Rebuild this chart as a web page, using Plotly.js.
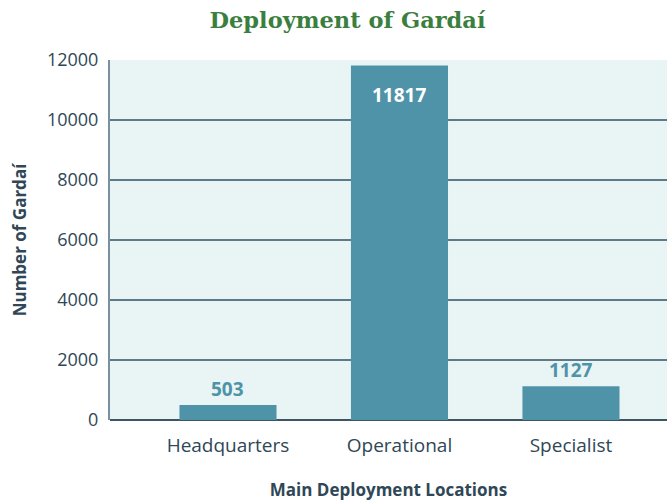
<!DOCTYPE html>
<html><head><meta charset="utf-8">
<script src="https://cdn.plot.ly/plotly-3.0.1.min.js"></script>
<style>body{margin:0;padding:0;background:#fff}#chart{width:667px;height:502px}</style>
</head><body><div id="chart"></div>
<script>
const categories = ["Headquarters", "Operational", "Specialist"];
const values = [503, 11817, 1127];
const yTicks = [0, 2000, 4000, 6000, 8000, 10000, 12000];

const barColor = "#4f93a9";
const labelFont = "Open Sans, sans-serif";
const trace = {
  type: "bar",
  x: categories,
  y: values,
  width: 0.566,
  marker: {color: barColor},
  hoverinfo: "none"
};

const annotations = categories.map((c, i) => {
  const inside = values[i] > 5000;
  return {
    x: c, y: values[i], xref: "x", yref: "y",
    text: "<b>" + values[i] + "</b>",
    showarrow: false,
    yanchor: inside ? "top" : "bottom",
    yshift: inside ? -15 : 1,
    font: {family: labelFont, size: 19, color: inside ? "#ffffff" : barColor}
  };
});

const layout = {
  width: 667, height: 502,
  margin: {l: 110, r: 0, t: 60, b: 82},
  paper_bgcolor: "#ffffff",
  plot_bgcolor: "#e9f5f5",
  showlegend: false,
  annotations: annotations,
  title: {text: "<b>Deployment of Gardaí</b>", xref: "container", x: 0.521, xanchor: "center", y: 0.976, yanchor: "top",
          font: {family: "DejaVu Serif, serif", size: 22.5, color: "#3b7f3f"}},
  xaxis: {
    type: "category",
    range: [-0.688, 2.56],
    showgrid: false,
    showline: false,
    ticks: "",
    tickfont: {family: labelFont, size: 19, color: "#2f4756"},
    ticklabelstandoff: 12,
    title: {text: "<b>Main Deployment Locations</b>", standoff: 27,
            font: {family: labelFont, size: 17, color: "#2f4756"}}
  },
  yaxis: {
    range: [0, 12000],
    tickvals: yTicks,
    ticktext: yTicks.map(String),
    showgrid: true,
    gridcolor: "#5e7a8a",
    gridwidth: 1.5,
    showline: true,
    linecolor: "#7890a0",
    linewidth: 2,
    zeroline: true,
    zerolinecolor: "#3c5565",
    zerolinewidth: 2,
    ticks: "",
    ticklabelstandoff: 6,
    tickfont: {family: labelFont, size: 18, color: "#2f4756"},
    title: {text: "<b>Number of Gardaí</b>", standoff: 16,
            font: {family: labelFont, size: 17, color: "#2f4756"}}
  }
};

Plotly.newPlot("chart", [trace], layout, {displayModeBar: false, staticPlot: true});
</script>
</body></html>
